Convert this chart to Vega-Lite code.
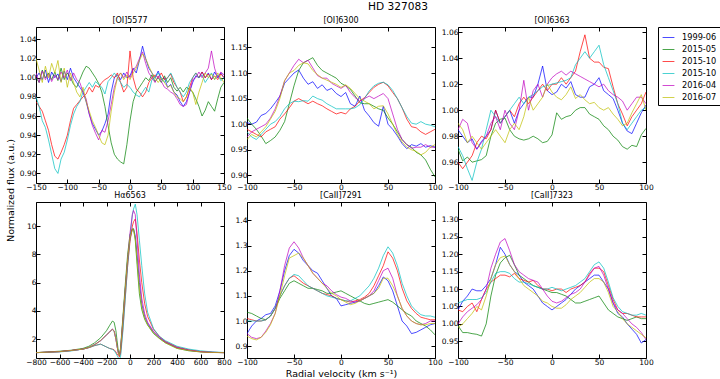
{
"$schema":"https://vega.github.io/schema/vega-lite/v6.json",
"padding":{"left":4,"top":2,"right":0,"bottom":0},
"title":{"text":"HD 327083","fontSize":10.6,"fontWeight":"normal","offset":3,"anchor":"middle","dx":35,"color":"black","baseline":"top"},
"datasets":{
"p1":[
{"v":-150,"s1":1.0,"s2":1.0,"s3":0.975,"s4":0.98,"s5":1.005,"s6":1.02},
{"v":-145,"s1":1.005,"s2":0.995,"s3":0.97,"s4":0.97,"s5":0.995,"s6":1.008},
{"v":-140,"s1":0.998,"s2":1.008,"s3":0.965,"s4":0.955,"s5":1.007,"s6":0.995},
{"v":-135,"s1":1.008,"s2":1.0,"s3":0.955,"s4":0.948,"s5":0.998,"s6":1.012},
{"v":-130,"s1":0.995,"s2":1.005,"s3":0.945,"s4":0.935,"s5":1.004,"s6":1.0},
{"v":-125,"s1":1.006,"s2":0.998,"s3":0.93,"s4":0.92,"s5":0.996,"s6":1.015},
{"v":-120,"s1":1.0,"s2":1.006,"s3":0.918,"s4":0.905,"s5":1.003,"s6":1.005},
{"v":-115,"s1":1.004,"s2":0.997,"s3":0.915,"s4":0.9,"s5":0.998,"s6":1.018},
{"v":-110,"s1":0.996,"s2":1.01,"s3":0.922,"s4":0.915,"s5":1.006,"s6":0.995},
{"v":-105,"s1":1.007,"s2":0.998,"s3":0.93,"s4":0.922,"s5":1.0,"s6":1.01},
{"v":-100,"s1":0.998,"s2":1.005,"s3":0.94,"s4":0.935,"s5":1.008,"s6":0.99},
{"v":-95,"s1":1.01,"s2":1.0,"s3":0.955,"s4":0.95,"s5":0.997,"s6":1.005},
{"v":-90,"s1":1.0,"s2":0.993,"s3":0.968,"s4":0.962,"s5":1.005,"s6":0.995},
{"v":-85,"s1":0.995,"s2":0.99,"s3":0.972,"s4":0.97,"s5":0.998,"s6":0.985},
{"v":-80,"s1":0.99,"s2":0.998,"s3":0.976,"s4":0.975,"s5":0.995,"s6":0.98},
{"v":-75,"s1":0.985,"s2":1.006,"s3":0.98,"s4":0.985,"s5":0.985,"s6":0.99},
{"v":-70,"s1":0.975,"s2":1.012,"s3":0.983,"s4":0.99,"s5":0.978,"s6":0.975},
{"v":-65,"s1":0.962,"s2":1.01,"s3":0.99,"s4":0.995,"s5":0.962,"s6":0.965},
{"v":-60,"s1":0.952,"s2":1.005,"s3":0.985,"s4":0.99,"s5":0.95,"s6":0.955},
{"v":-55,"s1":0.946,"s2":1.0,"s3":0.992,"s4":0.996,"s5":0.942,"s6":0.948},
{"v":-50,"s1":0.94,"s2":0.994,"s3":0.99,"s4":0.993,"s5":0.935,"s6":0.94},
{"v":-45,"s1":0.944,"s2":0.985,"s3":0.995,"s4":0.99,"s5":0.945,"s6":0.932},
{"v":-40,"s1":0.952,"s2":0.97,"s3":0.998,"s4":0.983,"s5":0.943,"s6":0.93},
{"v":-35,"s1":0.962,"s2":0.95,"s3":1.0,"s4":0.996,"s5":0.955,"s6":0.94},
{"v":-30,"s1":0.985,"s2":0.932,"s3":1.003,"s4":1.0,"s5":0.972,"s6":0.965},
{"v":-25,"s1":1.0,"s2":0.92,"s3":1.0,"s4":1.005,"s5":0.99,"s6":0.985},
{"v":-20,"s1":1.003,"s2":0.915,"s3":1.005,"s4":1.0,"s5":1.0,"s6":1.0},
{"v":-15,"s1":0.998,"s2":0.912,"s3":0.995,"s4":0.995,"s5":1.005,"s6":1.005},
{"v":-10,"s1":1.005,"s2":0.91,"s3":0.985,"s4":0.99,"s5":1.0,"s6":0.998},
{"v":-5,"s1":1.0,"s2":0.93,"s3":0.99,"s4":0.993,"s5":1.006,"s6":1.003},
{"v":0,"s1":1.002,"s2":0.955,"s3":1.028,"s4":0.99,"s5":1.0,"s6":0.998},
{"v":5,"s1":1.01,"s2":0.975,"s3":1.0,"s4":0.985,"s5":1.008,"s6":1.005},
{"v":10,"s1":1.005,"s2":0.985,"s3":0.988,"s4":0.982,"s5":1.012,"s6":1.01},
{"v":15,"s1":1.018,"s2":0.99,"s3":0.985,"s4":0.98,"s5":1.02,"s6":1.018},
{"v":20,"s1":1.033,"s2":0.995,"s3":0.98,"s4":0.985,"s5":1.027,"s6":1.025},
{"v":25,"s1":1.02,"s2":1.0,"s3":0.985,"s4":0.99,"s5":1.015,"s6":1.02},
{"v":30,"s1":1.01,"s2":0.997,"s3":0.995,"s4":0.985,"s5":1.005,"s6":1.012},
{"v":35,"s1":1.005,"s2":1.003,"s3":1.0,"s4":0.998,"s5":1.0,"s6":1.005},
{"v":40,"s1":1.0,"s2":0.996,"s3":1.003,"s4":1.0,"s5":0.995,"s6":1.0},
{"v":45,"s1":1.007,"s2":1.0,"s3":1.0,"s4":1.005,"s5":1.002,"s6":0.995},
{"v":50,"s1":0.998,"s2":0.995,"s3":1.005,"s4":1.0,"s5":0.996,"s6":1.0},
{"v":55,"s1":1.0,"s2":1.002,"s3":0.998,"s4":0.995,"s5":0.99,"s6":0.995},
{"v":60,"s1":0.99,"s2":0.995,"s3":1.0,"s4":1.0,"s5":0.988,"s6":0.99},
{"v":65,"s1":0.993,"s2":1.0,"s3":1.004,"s4":1.005,"s5":0.985,"s6":0.992},
{"v":70,"s1":0.985,"s2":0.99,"s3":0.995,"s4":0.998,"s5":0.983,"s6":0.985},
{"v":75,"s1":0.982,"s2":0.986,"s3":0.99,"s4":0.99,"s5":0.978,"s6":0.98},
{"v":80,"s1":0.975,"s2":0.99,"s3":0.985,"s4":0.985,"s5":0.972,"s6":0.978},
{"v":85,"s1":0.97,"s2":0.985,"s3":0.975,"s4":0.98,"s5":0.97,"s6":0.975},
{"v":90,"s1":0.975,"s2":0.99,"s3":0.98,"s4":0.985,"s5":0.972,"s6":0.98},
{"v":95,"s1":0.985,"s2":0.988,"s3":0.99,"s4":0.995,"s5":0.985,"s6":0.99},
{"v":100,"s1":0.995,"s2":0.985,"s3":1.0,"s4":1.0,"s5":0.998,"s6":0.985},
{"v":105,"s1":1.002,"s2":0.978,"s3":1.005,"s4":1.005,"s5":1.0,"s6":0.972},
{"v":110,"s1":1.0,"s2":0.97,"s3":1.0,"s4":1.0,"s5":1.006,"s6":0.985},
{"v":115,"s1":1.006,"s2":0.96,"s3":1.006,"s4":1.003,"s5":1.0,"s6":0.995},
{"v":120,"s1":1.0,"s2":0.966,"s3":1.0,"s4":0.995,"s5":1.005,"s6":1.005},
{"v":125,"s1":1.005,"s2":0.975,"s3":1.004,"s4":1.0,"s5":1.01,"s6":1.0},
{"v":130,"s1":0.998,"s2":0.97,"s3":0.998,"s4":1.005,"s5":1.028,"s6":1.004},
{"v":135,"s1":1.006,"s2":0.965,"s3":1.002,"s4":0.998,"s5":1.01,"s6":0.998},
{"v":140,"s1":1.0,"s2":0.978,"s3":0.998,"s4":1.003,"s5":1.0,"s6":1.005},
{"v":145,"s1":1.005,"s2":0.99,"s3":1.004,"s4":0.997,"s5":1.006,"s6":1.0},
{"v":150,"s1":1.0,"s2":0.995,"s3":1.0,"s4":1.0,"s5":1.003,"s6":0.995}
],
"p2":[
{"v":-100,"s1":1.003,"s2":1.012,"s3":0.99,"s4":0.985,"s5":0.975,"s6":0.97},
{"v":-95,"s1":1.0,"s2":1.0,"s3":0.985,"s4":0.975,"s5":0.985,"s6":0.98},
{"v":-90,"s1":1.004,"s2":0.99,"s3":0.98,"s4":0.97,"s5":0.99,"s6":0.975},
{"v":-85,"s1":1.017,"s2":0.977,"s3":0.975,"s4":0.98,"s5":0.995,"s6":0.985},
{"v":-80,"s1":1.021,"s2":0.962,"s3":0.985,"s4":0.99,"s5":1.0,"s6":0.995},
{"v":-75,"s1":1.03,"s2":0.968,"s3":0.99,"s4":1.0,"s5":1.012,"s6":1.01},
{"v":-70,"s1":1.042,"s2":0.975,"s3":0.995,"s4":1.005,"s5":1.03,"s6":1.025},
{"v":-65,"s1":1.055,"s2":0.988,"s3":1.01,"s4":1.015,"s5":1.055,"s6":1.05},
{"v":-60,"s1":1.08,"s2":1.005,"s3":1.02,"s4":1.03,"s5":1.085,"s6":1.085},
{"v":-55,"s1":1.09,"s2":1.04,"s3":1.032,"s4":1.04,"s5":1.1,"s6":1.1},
{"v":-50,"s1":1.1,"s2":1.075,"s3":1.045,"s4":1.045,"s5":1.115,"s6":1.105},
{"v":-45,"s1":1.106,"s2":1.105,"s3":1.05,"s4":1.044,"s5":1.127,"s6":1.115},
{"v":-40,"s1":1.09,"s2":1.12,"s3":1.045,"s4":1.046,"s5":1.12,"s6":1.12},
{"v":-35,"s1":1.078,"s2":1.125,"s3":1.04,"s4":1.045,"s5":1.125,"s6":1.118},
{"v":-30,"s1":1.083,"s2":1.13,"s3":1.045,"s4":1.055,"s5":1.11,"s6":1.105},
{"v":-25,"s1":1.07,"s2":1.115,"s3":1.04,"s4":1.05,"s5":1.095,"s6":1.097},
{"v":-20,"s1":1.077,"s2":1.105,"s3":1.036,"s4":1.047,"s5":1.09,"s6":1.09},
{"v":-15,"s1":1.066,"s2":1.1,"s3":1.03,"s4":1.04,"s5":1.09,"s6":1.086},
{"v":-10,"s1":1.07,"s2":1.095,"s3":1.025,"s4":1.035,"s5":1.08,"s6":1.082},
{"v":-5,"s1":1.06,"s2":1.09,"s3":1.02,"s4":1.03,"s5":1.075,"s6":1.078},
{"v":0,"s1":1.054,"s2":1.08,"s3":1.023,"s4":1.03,"s5":1.07,"s6":1.072},
{"v":5,"s1":1.062,"s2":1.075,"s3":1.02,"s4":1.03,"s5":1.076,"s6":1.077},
{"v":10,"s1":1.04,"s2":1.068,"s3":1.03,"s4":1.03,"s5":1.062,"s6":1.07},
{"v":15,"s1":1.035,"s2":1.055,"s3":1.035,"s4":1.032,"s5":1.052,"s6":1.06},
{"v":20,"s1":1.055,"s2":1.042,"s3":1.045,"s4":1.038,"s5":1.045,"s6":1.05},
{"v":25,"s1":1.027,"s2":1.04,"s3":1.052,"s4":1.05,"s5":1.05,"s6":1.045},
{"v":30,"s1":1.016,"s2":1.04,"s3":1.062,"s4":1.065,"s5":1.055,"s6":1.04},
{"v":35,"s1":1.003,"s2":1.035,"s3":1.072,"s4":1.075,"s5":1.05,"s6":1.03},
{"v":40,"s1":0.996,"s2":1.03,"s3":1.078,"s4":1.08,"s5":1.055,"s6":1.035},
{"v":45,"s1":1.035,"s2":1.027,"s3":1.082,"s4":1.082,"s5":1.06,"s6":1.036},
{"v":50,"s1":1.0,"s2":1.012,"s3":1.075,"s4":1.077,"s5":1.05,"s6":1.02},
{"v":55,"s1":0.99,"s2":1.0,"s3":1.062,"s4":1.066,"s5":1.02,"s6":1.0},
{"v":60,"s1":0.977,"s2":0.985,"s3":1.05,"s4":1.05,"s5":0.99,"s6":0.98},
{"v":65,"s1":0.962,"s2":0.97,"s3":1.032,"s4":1.032,"s5":0.97,"s6":0.965},
{"v":70,"s1":0.952,"s2":0.96,"s3":1.01,"s4":1.015,"s5":0.96,"s6":0.955},
{"v":75,"s1":0.96,"s2":0.955,"s3":0.995,"s4":1.002,"s5":0.953,"s6":0.95},
{"v":80,"s1":0.957,"s2":0.945,"s3":0.993,"s4":1.0,"s5":0.955,"s6":0.947},
{"v":85,"s1":0.962,"s2":0.94,"s3":0.985,"s4":1.005,"s5":0.955,"s6":0.94},
{"v":90,"s1":0.955,"s2":0.93,"s3":0.98,"s4":1.0,"s5":0.96,"s6":0.945},
{"v":95,"s1":0.958,"s2":0.912,"s3":0.985,"s4":0.998,"s5":0.955,"s6":0.955},
{"v":100,"s1":0.955,"s2":0.897,"s3":0.99,"s4":0.995,"s5":0.955,"s6":0.96}
],
"p3":[
{"v":-100,"s1":0.985,"s2":0.97,"s3":0.96,"s4":0.972,"s5":0.985,"s6":0.99},
{"v":-95,"s1":0.98,"s2":0.961,"s3":0.955,"s4":0.965,"s5":0.993,"s6":0.985},
{"v":-90,"s1":0.975,"s2":0.964,"s3":0.96,"s4":0.955,"s5":0.99,"s6":0.975},
{"v":-85,"s1":0.978,"s2":0.96,"s3":0.965,"s4":0.946,"s5":0.975,"s6":0.98},
{"v":-80,"s1":0.97,"s2":0.961,"s3":0.975,"s4":0.96,"s5":0.97,"s6":0.975},
{"v":-75,"s1":0.976,"s2":0.962,"s3":0.98,"s4":0.97,"s5":0.975,"s6":0.97},
{"v":-70,"s1":0.98,"s2":0.965,"s3":0.978,"s4":0.985,"s5":0.98,"s6":0.975},
{"v":-65,"s1":0.985,"s2":0.98,"s3":0.985,"s4":1.0,"s5":0.99,"s6":0.98},
{"v":-60,"s1":1.0,"s2":0.99,"s3":1.0,"s4":0.995,"s5":0.995,"s6":0.985},
{"v":-55,"s1":0.99,"s2":0.993,"s3":0.99,"s4":0.99,"s5":0.985,"s6":0.98},
{"v":-50,"s1":0.995,"s2":0.994,"s3":0.995,"s4":0.995,"s5":1.0,"s6":0.975},
{"v":-45,"s1":1.0,"s2":0.985,"s3":1.0,"s4":1.0,"s5":0.99,"s6":0.985},
{"v":-40,"s1":0.99,"s2":0.98,"s3":0.995,"s4":1.005,"s5":0.985,"s6":0.99},
{"v":-35,"s1":1.0,"s2":0.978,"s3":1.005,"s4":1.01,"s5":1.0,"s6":0.985},
{"v":-30,"s1":1.005,"s2":0.977,"s3":1.01,"s4":1.005,"s5":1.023,"s6":0.995},
{"v":-25,"s1":1.01,"s2":0.978,"s3":1.005,"s4":1.01,"s5":1.0,"s6":1.01},
{"v":-20,"s1":1.01,"s2":0.98,"s3":1.01,"s4":1.012,"s5":1.015,"s6":1.0},
{"v":-15,"s1":1.02,"s2":0.978,"s3":1.015,"s4":1.015,"s5":1.02,"s6":1.005},
{"v":-10,"s1":1.034,"s2":0.975,"s3":1.02,"s4":1.018,"s5":1.01,"s6":1.01},
{"v":-5,"s1":1.015,"s2":0.976,"s3":1.015,"s4":1.019,"s5":1.02,"s6":1.02},
{"v":0,"s1":1.012,"s2":0.981,"s3":1.02,"s4":1.02,"s5":1.025,"s6":1.014},
{"v":5,"s1":1.014,"s2":0.998,"s3":1.02,"s4":1.021,"s5":1.028,"s6":1.01},
{"v":10,"s1":1.02,"s2":0.993,"s3":1.025,"s4":1.022,"s5":1.03,"s6":1.008},
{"v":15,"s1":1.017,"s2":0.995,"s3":1.02,"s4":1.023,"s5":1.027,"s6":1.012},
{"v":20,"s1":1.022,"s2":0.996,"s3":1.025,"s4":1.025,"s5":1.03,"s6":1.018},
{"v":25,"s1":1.012,"s2":1.0,"s3":1.03,"s4":1.035,"s5":1.028,"s6":1.009},
{"v":30,"s1":1.01,"s2":1.002,"s3":1.045,"s4":1.04,"s5":1.026,"s6":1.012},
{"v":35,"s1":1.01,"s2":1.002,"s3":1.058,"s4":1.045,"s5":1.024,"s6":1.008},
{"v":40,"s1":1.018,"s2":0.997,"s3":1.04,"s4":1.04,"s5":1.022,"s6":1.005},
{"v":45,"s1":1.02,"s2":0.995,"s3":1.037,"s4":1.045,"s5":1.02,"s6":1.006},
{"v":50,"s1":1.025,"s2":0.993,"s3":1.037,"s4":1.05,"s5":1.018,"s6":1.002},
{"v":55,"s1":1.015,"s2":0.988,"s3":1.033,"s4":1.035,"s5":1.02,"s6":1.0},
{"v":60,"s1":1.012,"s2":0.985,"s3":1.032,"s4":1.025,"s5":1.015,"s6":1.002},
{"v":65,"s1":1.009,"s2":0.98,"s3":1.018,"s4":1.015,"s5":1.012,"s6":0.997},
{"v":70,"s1":1.0,"s2":0.977,"s3":1.005,"s4":1.005,"s5":1.01,"s6":0.993},
{"v":75,"s1":0.99,"s2":0.972,"s3":0.997,"s4":0.99,"s5":1.007,"s6":0.988},
{"v":80,"s1":0.984,"s2":0.97,"s3":0.988,"s4":0.985,"s5":1.0,"s6":0.99},
{"v":85,"s1":0.982,"s2":0.973,"s3":0.995,"s4":0.99,"s5":1.005,"s6":0.998},
{"v":90,"s1":0.99,"s2":0.972,"s3":1.0,"s4":0.995,"s5":1.01,"s6":1.005},
{"v":95,"s1":0.998,"s2":0.981,"s3":1.005,"s4":1.0,"s5":1.01,"s6":1.012},
{"v":100,"s1":1.004,"s2":0.986,"s3":1.014,"s4":1.002,"s5":1.005,"s6":1.0}
],
"p4":[
{"v":-800,"s1":1.05,"s2":1.05,"s3":1.05,"s4":1.05,"s5":1.05,"s6":1.05},
{"v":-700,"s1":1.08,"s2":1.1,"s3":1.08,"s4":1.07,"s5":1.08,"s6":1.08},
{"v":-600,"s1":1.12,"s2":1.15,"s3":1.12,"s4":1.1,"s5":1.12,"s6":1.12},
{"v":-500,"s1":1.2,"s2":1.22,"s3":1.2,"s4":1.17,"s5":1.2,"s6":1.2},
{"v":-400,"s1":1.3,"s2":1.35,"s3":1.3,"s4":1.3,"s5":1.3,"s6":1.3},
{"v":-350,"s1":1.42,"s2":1.5,"s3":1.4,"s4":1.4,"s5":1.42,"s6":1.42},
{"v":-300,"s1":1.62,"s2":1.75,"s3":1.55,"s4":1.55,"s5":1.62,"s6":1.62},
{"v":-250,"s1":1.9,"s2":2.1,"s3":1.65,"s4":1.65,"s5":1.9,"s6":1.9},
{"v":-200,"s1":2.3,"s2":2.6,"s3":1.45,"s4":1.45,"s5":2.3,"s6":2.3},
{"v":-175,"s1":2.5,"s2":2.95,"s3":1.35,"s4":1.35,"s5":2.5,"s6":2.5},
{"v":-150,"s1":2.7,"s2":3.28,"s3":1.3,"s4":1.28,"s5":2.72,"s6":2.7},
{"v":-135,"s1":2.55,"s2":3.2,"s3":1.25,"s4":1.2,"s5":2.6,"s6":2.55},
{"v":-120,"s1":2.0,"s2":2.6,"s3":1.1,"s4":1.0,"s5":2.05,"s6":2.0},
{"v":-110,"s1":1.5,"s2":1.9,"s3":0.95,"s4":0.85,"s5":1.5,"s6":1.5},
{"v":-100,"s1":1.05,"s2":1.2,"s3":0.85,"s4":0.7,"s5":1.05,"s6":1.05},
{"v":-90,"s1":0.85,"s2":0.85,"s3":0.75,"s4":0.55,"s5":0.85,"s6":0.85},
{"v":-80,"s1":1.3,"s2":1.4,"s3":1.0,"s4":0.8,"s5":1.25,"s6":1.3},
{"v":-60,"s1":3.4,"s2":3.6,"s3":2.8,"s4":2.6,"s5":3.3,"s6":3.4},
{"v":-40,"s1":5.6,"s2":5.9,"s3":5.0,"s4":4.9,"s5":5.5,"s6":5.6},
{"v":-20,"s1":7.6,"s2":8.0,"s3":7.2,"s4":7.2,"s5":7.6,"s6":7.7},
{"v":0,"s1":9.1,"s2":9.4,"s3":8.9,"s4":9.2,"s5":9.5,"s6":9.2},
{"v":20,"s1":9.75,"s2":9.8,"s3":10.0,"s4":10.8,"s5":10.8,"s6":9.75},
{"v":30,"s1":9.8,"s2":9.8,"s3":10.3,"s4":11.2,"s5":11.1,"s6":9.75},
{"v":45,"s1":9.3,"s2":9.0,"s3":10.5,"s4":11.55,"s5":10.8,"s6":9.1},
{"v":60,"s1":8.0,"s2":7.3,"s3":9.5,"s4":10.8,"s5":9.0,"s6":7.6},
{"v":80,"s1":6.0,"s2":5.2,"s3":7.6,"s4":9.0,"s5":6.6,"s6":5.6},
{"v":100,"s1":4.5,"s2":4.1,"s3":6.0,"s4":7.2,"s5":4.9,"s6":4.3},
{"v":125,"s1":3.6,"s2":3.4,"s3":4.5,"s4":5.2,"s5":3.8,"s6":3.5},
{"v":150,"s1":3.1,"s2":3.0,"s3":3.6,"s4":3.9,"s5":3.2,"s6":3.0},
{"v":200,"s1":2.5,"s2":2.4,"s3":2.7,"s4":2.75,"s5":2.55,"s6":2.45},
{"v":250,"s1":2.1,"s2":2.05,"s3":2.2,"s4":2.2,"s5":2.15,"s6":2.05},
{"v":300,"s1":1.8,"s2":1.75,"s3":1.85,"s4":1.9,"s5":1.8,"s6":1.75},
{"v":400,"s1":1.4,"s2":1.35,"s3":1.45,"s4":1.5,"s5":1.4,"s6":1.35},
{"v":500,"s1":1.22,"s2":1.18,"s3":1.25,"s4":1.3,"s5":1.22,"s6":1.2},
{"v":600,"s1":1.12,"s2":1.1,"s3":1.12,"s4":1.18,"s5":1.12,"s6":1.1},
{"v":700,"s1":1.07,"s2":1.06,"s3":1.07,"s4":1.1,"s5":1.07,"s6":1.06},
{"v":800,"s1":1.05,"s2":1.05,"s3":1.05,"s4":1.06,"s5":1.05,"s6":1.05}
],
"p5":[
{"v":-100,"s1":0.95,"s2":1.035,"s3":1.01,"s4":1.0,"s5":0.95,"s6":0.94},
{"v":-95,"s1":0.98,"s2":1.03,"s3":1.005,"s4":1.0,"s5":0.935,"s6":0.93},
{"v":-90,"s1":1.0,"s2":1.02,"s3":1.0,"s4":1.0,"s5":0.93,"s6":0.925},
{"v":-85,"s1":1.01,"s2":1.01,"s3":1.0,"s4":1.0,"s5":0.935,"s6":0.935},
{"v":-80,"s1":1.025,"s2":1.005,"s3":1.005,"s4":1.005,"s5":0.96,"s6":0.955},
{"v":-75,"s1":1.03,"s2":1.02,"s3":1.02,"s4":1.02,"s5":0.99,"s6":0.985},
{"v":-70,"s1":1.06,"s2":1.05,"s3":1.05,"s4":1.05,"s5":1.03,"s6":1.03},
{"v":-65,"s1":1.12,"s2":1.09,"s3":1.1,"s4":1.1,"s5":1.12,"s6":1.1},
{"v":-60,"s1":1.2,"s2":1.12,"s3":1.14,"s4":1.14,"s5":1.22,"s6":1.18},
{"v":-55,"s1":1.26,"s2":1.15,"s3":1.17,"s4":1.17,"s5":1.29,"s6":1.25},
{"v":-50,"s1":1.285,"s2":1.16,"s3":1.18,"s4":1.185,"s5":1.315,"s6":1.26},
{"v":-45,"s1":1.27,"s2":1.15,"s3":1.165,"s4":1.18,"s5":1.29,"s6":1.27},
{"v":-40,"s1":1.24,"s2":1.14,"s3":1.15,"s4":1.16,"s5":1.25,"s6":1.25},
{"v":-35,"s1":1.22,"s2":1.13,"s3":1.14,"s4":1.14,"s5":1.22,"s6":1.22},
{"v":-30,"s1":1.2,"s2":1.13,"s3":1.13,"s4":1.13,"s5":1.19,"s6":1.19},
{"v":-25,"s1":1.19,"s2":1.125,"s3":1.12,"s4":1.12,"s5":1.17,"s6":1.17},
{"v":-20,"s1":1.16,"s2":1.12,"s3":1.11,"s4":1.11,"s5":1.15,"s6":1.15},
{"v":-15,"s1":1.13,"s2":1.11,"s3":1.105,"s4":1.1,"s5":1.14,"s6":1.13},
{"v":-10,"s1":1.1,"s2":1.11,"s3":1.1,"s4":1.095,"s5":1.12,"s6":1.11},
{"v":-5,"s1":1.09,"s2":1.115,"s3":1.09,"s4":1.09,"s5":1.105,"s6":1.1},
{"v":0,"s1":1.06,"s2":1.12,"s3":1.085,"s4":1.085,"s5":1.095,"s6":1.085},
{"v":5,"s1":1.065,"s2":1.11,"s3":1.08,"s4":1.08,"s5":1.09,"s6":1.075},
{"v":10,"s1":1.07,"s2":1.1,"s3":1.075,"s4":1.08,"s5":1.08,"s6":1.065},
{"v":15,"s1":1.075,"s2":1.09,"s3":1.08,"s4":1.09,"s5":1.075,"s6":1.07},
{"v":20,"s1":1.08,"s2":1.08,"s3":1.085,"s4":1.1,"s5":1.08,"s6":1.08},
{"v":25,"s1":1.09,"s2":1.07,"s3":1.095,"s4":1.12,"s5":1.09,"s6":1.09},
{"v":30,"s1":1.1,"s2":1.065,"s3":1.11,"s4":1.14,"s5":1.1,"s6":1.1},
{"v":35,"s1":1.11,"s2":1.07,"s3":1.14,"s4":1.17,"s5":1.12,"s6":1.11},
{"v":40,"s1":1.14,"s2":1.075,"s3":1.18,"s4":1.21,"s5":1.16,"s6":1.13},
{"v":45,"s1":1.175,"s2":1.08,"s3":1.22,"s4":1.26,"s5":1.2,"s6":1.17},
{"v":50,"s1":1.16,"s2":1.085,"s3":1.275,"s4":1.295,"s5":1.21,"s6":1.17},
{"v":55,"s1":1.12,"s2":1.075,"s3":1.25,"s4":1.27,"s5":1.17,"s6":1.14},
{"v":60,"s1":1.06,"s2":1.06,"s3":1.2,"s4":1.22,"s5":1.1,"s6":1.1},
{"v":65,"s1":1.0,"s2":1.045,"s3":1.13,"s4":1.15,"s5":1.05,"s6":1.05},
{"v":70,"s1":0.98,"s2":1.03,"s3":1.08,"s4":1.1,"s5":1.02,"s6":1.02},
{"v":75,"s1":0.95,"s2":1.02,"s3":1.05,"s4":1.06,"s5":1.0,"s6":1.0},
{"v":80,"s1":0.955,"s2":1.0,"s3":1.03,"s4":1.04,"s5":0.99,"s6":0.99},
{"v":85,"s1":0.965,"s2":0.99,"s3":1.015,"s4":1.025,"s5":0.985,"s6":0.985},
{"v":90,"s1":0.975,"s2":0.98,"s3":1.01,"s4":1.02,"s5":0.99,"s6":0.985},
{"v":95,"s1":0.985,"s2":0.965,"s3":1.005,"s4":1.02,"s5":1.0,"s6":0.99},
{"v":100,"s1":0.99,"s2":0.945,"s3":1.005,"s4":1.015,"s5":1.0,"s6":0.99}
],
"p6":[
{"v":-100,"s1":1.04,"s2":0.995,"s3":1.04,"s4":1.06,"s5":1.0,"s6":0.99},
{"v":-95,"s1":1.065,"s2":0.975,"s3":1.035,"s4":1.065,"s5":1.02,"s6":1.0},
{"v":-90,"s1":1.08,"s2":0.975,"s3":1.05,"s4":1.07,"s5":1.035,"s6":1.015},
{"v":-85,"s1":1.1,"s2":0.972,"s3":1.06,"s4":1.07,"s5":1.045,"s6":1.03},
{"v":-80,"s1":1.095,"s2":0.97,"s3":1.035,"s4":1.07,"s5":1.055,"s6":1.05},
{"v":-75,"s1":1.095,"s2":0.965,"s3":1.07,"s4":1.075,"s5":1.07,"s6":1.04},
{"v":-70,"s1":1.11,"s2":1.0,"s3":1.1,"s4":1.09,"s5":1.1,"s6":1.08},
{"v":-65,"s1":1.13,"s2":1.08,"s3":1.12,"s4":1.12,"s5":1.16,"s6":1.13},
{"v":-60,"s1":1.17,"s2":1.14,"s3":1.13,"s4":1.145,"s5":1.2,"s6":1.17},
{"v":-55,"s1":1.22,"s2":1.175,"s3":1.14,"s4":1.15,"s5":1.235,"s6":1.19},
{"v":-50,"s1":1.2,"s2":1.19,"s3":1.14,"s4":1.15,"s5":1.245,"s6":1.195},
{"v":-45,"s1":1.17,"s2":1.197,"s3":1.135,"s4":1.145,"s5":1.21,"s6":1.17},
{"v":-40,"s1":1.15,"s2":1.17,"s3":1.145,"s4":1.13,"s5":1.17,"s6":1.15},
{"v":-35,"s1":1.14,"s2":1.14,"s3":1.13,"s4":1.12,"s5":1.15,"s6":1.13},
{"v":-30,"s1":1.12,"s2":1.13,"s3":1.125,"s4":1.12,"s5":1.14,"s6":1.11},
{"v":-25,"s1":1.11,"s2":1.12,"s3":1.12,"s4":1.115,"s5":1.13,"s6":1.1},
{"v":-20,"s1":1.1,"s2":1.11,"s3":1.125,"s4":1.11,"s5":1.125,"s6":1.09},
{"v":-15,"s1":1.08,"s2":1.105,"s3":1.11,"s4":1.105,"s5":1.12,"s6":1.08},
{"v":-10,"s1":1.06,"s2":1.1,"s3":1.1,"s4":1.1,"s5":1.1,"s6":1.065},
{"v":-5,"s1":1.05,"s2":1.095,"s3":1.1,"s4":1.1,"s5":1.08,"s6":1.06},
{"v":0,"s1":1.04,"s2":1.09,"s3":1.095,"s4":1.105,"s5":1.065,"s6":1.05},
{"v":5,"s1":1.05,"s2":1.09,"s3":1.1,"s4":1.1,"s5":1.06,"s6":1.045},
{"v":10,"s1":1.06,"s2":1.085,"s3":1.1,"s4":1.095,"s5":1.065,"s6":1.045},
{"v":15,"s1":1.07,"s2":1.08,"s3":1.09,"s4":1.1,"s5":1.075,"s6":1.055},
{"v":20,"s1":1.085,"s2":1.07,"s3":1.1,"s4":1.105,"s5":1.085,"s6":1.07},
{"v":25,"s1":1.1,"s2":1.06,"s3":1.105,"s4":1.11,"s5":1.09,"s6":1.08},
{"v":30,"s1":1.11,"s2":1.06,"s3":1.11,"s4":1.12,"s5":1.1,"s6":1.09},
{"v":35,"s1":1.12,"s2":1.065,"s3":1.12,"s4":1.13,"s5":1.12,"s6":1.105},
{"v":40,"s1":1.13,"s2":1.07,"s3":1.145,"s4":1.15,"s5":1.14,"s6":1.12},
{"v":45,"s1":1.14,"s2":1.075,"s3":1.16,"s4":1.17,"s5":1.16,"s6":1.13},
{"v":50,"s1":1.14,"s2":1.08,"s3":1.16,"s4":1.178,"s5":1.165,"s6":1.13},
{"v":55,"s1":1.12,"s2":1.06,"s3":1.15,"s4":1.16,"s5":1.14,"s6":1.12},
{"v":60,"s1":1.1,"s2":1.04,"s3":1.11,"s4":1.12,"s5":1.1,"s6":1.09},
{"v":65,"s1":1.06,"s2":1.03,"s3":1.07,"s4":1.075,"s5":1.06,"s6":1.05},
{"v":70,"s1":1.03,"s2":1.02,"s3":1.04,"s4":1.05,"s5":1.04,"s6":1.035},
{"v":75,"s1":1.02,"s2":1.015,"s3":1.03,"s4":1.035,"s5":1.03,"s6":1.015},
{"v":80,"s1":1.0,"s2":1.01,"s3":1.03,"s4":1.03,"s5":1.015,"s6":1.0},
{"v":85,"s1":0.985,"s2":1.015,"s3":1.025,"s4":1.025,"s5":1.0,"s6":0.99},
{"v":90,"s1":0.97,"s2":1.02,"s3":1.02,"s4":1.025,"s5":0.99,"s6":0.98},
{"v":95,"s1":0.945,"s2":1.015,"s3":1.02,"s4":1.03,"s5":0.975,"s6":0.97},
{"v":100,"s1":0.955,"s2":1.015,"s3":1.02,"s4":1.025,"s5":0.955,"s6":0.96}
]
},
"columns":3,
"spacing":{"row":19,"column":23},
"bounds":"flush",
"concat":[
{"width":188,"height":156,"title":"[OI]5577","data":{"name":"p1"},
 "transform":[{"fold":["s1","s2","s3","s4","s5","s6"],"as":["s","f"]}],
 "layer":[
  {"mark":{"type":"line","strokeWidth":1,"opacity":0.7,"clip":true},
   "encoding":{
    "x":{"field":"v","type":"quantitative","scale":{"domain":[-150,150],"nice":false,"zero":false},"axis":{"values":[-150,-100,-50,0,50,100,150],"title":null}},
    "y":{"field":"f","type":"quantitative","scale":{"domain":[0.89,1.053],"nice":false,"zero":false},"axis":{"values":[0.9,0.92,0.94,0.96,0.98,1.0,1.02,1.04],"format":".2f","title":"Normalized flux (a.u.)","titleX":-21,"titleY":163}},
    "color":{"field":"s","type":"nominal","scale":{"domain":["s1","s2","s3","s4","s5","s6"],"range":["#0000ff","#008000","#ff0000","#00bfbf","#bf00bf","#bfbf00"]},"legend":{"labelExpr":"['1999-06','2015-05','2015-10','2015-10','2016-04','2016-07'][indexof(['s1','s2','s3','s4','s5','s6'],datum.value)]"}}}},
  {"mark":{"type":"line","opacity":0},
   "encoding":{
    "x":{"field":"v","type":"quantitative","scale":{"domain":[-150,150],"nice":false,"zero":false},"axis":{"orient":"top","values":[-150,-100,-50,0,50,100,150],"labels":false,"title":null}},
    "y":{"field":"f","type":"quantitative","scale":{"domain":[0.89,1.053],"nice":false,"zero":false},"axis":{"orient":"right","values":[0.9,0.92,0.94,0.96,0.98,1.0,1.02,1.04],"labels":false,"title":null}},
    "detail":{"field":"s"}}}
 ],
 "resolve":{"axis":{"x":"independent","y":"independent"}}},
{"width":188,"height":156,"title":"[OI]6300","data":{"name":"p2"},
 "transform":[{"fold":["s1","s2","s3","s4","s5","s6"],"as":["s","f"]}],
 "layer":[
  {"mark":{"type":"line","strokeWidth":1,"opacity":0.7,"clip":true},
   "encoding":{
    "x":{"field":"v","type":"quantitative","scale":{"domain":[-100,100],"nice":false,"zero":false},"axis":{"values":[-100,-50,0,50,100],"title":null}},
    "y":{"field":"f","type":"quantitative","scale":{"domain":[0.885,1.19],"nice":false,"zero":false},"axis":{"values":[0.9,0.95,1.0,1.05,1.1,1.15],"format":".2f","title":null}},
    "color":{"field":"s","type":"nominal","scale":{"domain":["s1","s2","s3","s4","s5","s6"],"range":["#0000ff","#008000","#ff0000","#00bfbf","#bf00bf","#bfbf00"]},"legend":{"labelExpr":"['1999-06','2015-05','2015-10','2015-10','2016-04','2016-07'][indexof(['s1','s2','s3','s4','s5','s6'],datum.value)]"}}}},
  {"mark":{"type":"line","opacity":0},
   "encoding":{
    "x":{"field":"v","type":"quantitative","scale":{"domain":[-100,100],"nice":false,"zero":false},"axis":{"orient":"top","values":[-100,-50,0,50,100],"labels":false,"title":null}},
    "y":{"field":"f","type":"quantitative","scale":{"domain":[0.885,1.19],"nice":false,"zero":false},"axis":{"orient":"right","values":[0.9,0.95,1.0,1.05,1.1,1.15],"labels":false,"title":null}},
    "detail":{"field":"s"}}}
 ],
 "resolve":{"axis":{"x":"independent","y":"independent"}}},
{"width":188,"height":156,"title":"[OI]6363","data":{"name":"p3"},
 "transform":[{"fold":["s1","s2","s3","s4","s5","s6"],"as":["s","f"]}],
 "layer":[
  {"mark":{"type":"line","strokeWidth":1,"opacity":0.7,"clip":true},
   "encoding":{
    "x":{"field":"v","type":"quantitative","scale":{"domain":[-100,100],"nice":false,"zero":false},"axis":{"values":[-100,-50,0,50,100],"title":null}},
    "y":{"field":"f","type":"quantitative","scale":{"domain":[0.944,1.064],"nice":false,"zero":false},"axis":{"values":[0.96,0.98,1.0,1.02,1.04,1.06],"format":".2f","title":null}},
    "color":{"field":"s","type":"nominal","scale":{"domain":["s1","s2","s3","s4","s5","s6"],"range":["#0000ff","#008000","#ff0000","#00bfbf","#bf00bf","#bfbf00"]},"legend":{"labelExpr":"['1999-06','2015-05','2015-10','2015-10','2016-04','2016-07'][indexof(['s1','s2','s3','s4','s5','s6'],datum.value)]"}}}},
  {"mark":{"type":"line","opacity":0},
   "encoding":{
    "x":{"field":"v","type":"quantitative","scale":{"domain":[-100,100],"nice":false,"zero":false},"axis":{"orient":"top","values":[-100,-50,0,50,100],"labels":false,"title":null}},
    "y":{"field":"f","type":"quantitative","scale":{"domain":[0.944,1.064],"nice":false,"zero":false},"axis":{"orient":"right","values":[0.96,0.98,1.0,1.02,1.04,1.06],"labels":false,"title":null}},
    "detail":{"field":"s"}}}
 ],
 "resolve":{"axis":{"x":"independent","y":"independent"}}},
{"width":188,"height":156,"title":"Hα6563","data":{"name":"p4"},
 "transform":[{"fold":["s1","s2","s3","s4","s5","s6"],"as":["s","f"]}],
 "layer":[
  {"mark":{"type":"line","strokeWidth":1,"opacity":0.7,"clip":true},
   "encoding":{
    "x":{"field":"v","type":"quantitative","scale":{"domain":[-800,800],"nice":false,"zero":false},"axis":{"values":[-800,-600,-400,-200,0,200,400,600,800],"title":null}},
    "y":{"field":"f","type":"quantitative","scale":{"domain":[0.67,11.7],"nice":false,"zero":false},"axis":{"values":[2,4,6,8,10],"format":"d","title":null}},
    "color":{"field":"s","type":"nominal","scale":{"domain":["s1","s2","s3","s4","s5","s6"],"range":["#0000ff","#008000","#ff0000","#00bfbf","#bf00bf","#bfbf00"]},"legend":{"labelExpr":"['1999-06','2015-05','2015-10','2015-10','2016-04','2016-07'][indexof(['s1','s2','s3','s4','s5','s6'],datum.value)]"}}}},
  {"mark":{"type":"line","opacity":0},
   "encoding":{
    "x":{"field":"v","type":"quantitative","scale":{"domain":[-800,800],"nice":false,"zero":false},"axis":{"orient":"top","values":[-800,-600,-400,-200,0,200,400,600,800],"labels":false,"title":null}},
    "y":{"field":"f","type":"quantitative","scale":{"domain":[0.67,11.7],"nice":false,"zero":false},"axis":{"orient":"right","values":[2,4,6,8,10],"labels":false,"title":null}},
    "detail":{"field":"s"}}}
 ],
 "resolve":{"axis":{"x":"independent","y":"independent"}}},
{"width":188,"height":156,"title":"[CaII]7291","data":{"name":"p5"},
 "transform":[{"fold":["s1","s2","s3","s4","s5","s6"],"as":["s","f"]}],
 "layer":[
  {"mark":{"type":"line","strokeWidth":1,"opacity":0.7,"clip":true},
   "encoding":{
    "x":{"field":"v","type":"quantitative","scale":{"domain":[-100,100],"nice":false,"zero":false},"axis":{"values":[-100,-50,0,50,100],"title":"Radial velocity (km s⁻¹)","titleY":10}},
    "y":{"field":"f","type":"quantitative","scale":{"domain":[0.853,1.473],"nice":false,"zero":false},"axis":{"values":[0.9,1.0,1.1,1.2,1.3,1.4],"format":".1f","title":null}},
    "color":{"field":"s","type":"nominal","scale":{"domain":["s1","s2","s3","s4","s5","s6"],"range":["#0000ff","#008000","#ff0000","#00bfbf","#bf00bf","#bfbf00"]},"legend":{"labelExpr":"['1999-06','2015-05','2015-10','2015-10','2016-04','2016-07'][indexof(['s1','s2','s3','s4','s5','s6'],datum.value)]"}}}},
  {"mark":{"type":"line","opacity":0},
   "encoding":{
    "x":{"field":"v","type":"quantitative","scale":{"domain":[-100,100],"nice":false,"zero":false},"axis":{"orient":"top","values":[-100,-50,0,50,100],"labels":false,"title":null}},
    "y":{"field":"f","type":"quantitative","scale":{"domain":[0.853,1.473],"nice":false,"zero":false},"axis":{"orient":"right","values":[0.9,1.0,1.1,1.2,1.3,1.4],"labels":false,"title":null}},
    "detail":{"field":"s"}}}
 ],
 "resolve":{"axis":{"x":"independent","y":"independent"}}},
{"width":188,"height":156,"title":"[CaII]7323","data":{"name":"p6"},
 "transform":[{"fold":["s1","s2","s3","s4","s5","s6"],"as":["s","f"]}],
 "layer":[
  {"mark":{"type":"line","strokeWidth":1,"opacity":0.7,"clip":true},
   "encoding":{
    "x":{"field":"v","type":"quantitative","scale":{"domain":[-100,100],"nice":false,"zero":false},"axis":{"values":[-100,-50,0,50,100],"title":null}},
    "y":{"field":"f","type":"quantitative","scale":{"domain":[0.902,1.35],"nice":false,"zero":false},"axis":{"values":[0.95,1.0,1.05,1.1,1.15,1.2,1.25,1.3],"format":".2f","title":null}},
    "color":{"field":"s","type":"nominal","scale":{"domain":["s1","s2","s3","s4","s5","s6"],"range":["#0000ff","#008000","#ff0000","#00bfbf","#bf00bf","#bfbf00"]},"legend":{"labelExpr":"['1999-06','2015-05','2015-10','2015-10','2016-04','2016-07'][indexof(['s1','s2','s3','s4','s5','s6'],datum.value)]"}}}},
  {"mark":{"type":"line","opacity":0},
   "encoding":{
    "x":{"field":"v","type":"quantitative","scale":{"domain":[-100,100],"nice":false,"zero":false},"axis":{"orient":"top","values":[-100,-50,0,50,100],"labels":false,"title":null}},
    "y":{"field":"f","type":"quantitative","scale":{"domain":[0.902,1.35],"nice":false,"zero":false},"axis":{"orient":"right","values":[0.95,1.0,1.05,1.1,1.15,1.2,1.25,1.3],"labels":false,"title":null}},
    "detail":{"field":"s"}}}
 ],
 "resolve":{"axis":{"x":"independent","y":"independent"}}}
],
"config":{
 "font":"DejaVu Sans",
 "background":"white",
 "view":{"stroke":"black","strokeWidth":1},
 "axis":{"grid":false,"domain":false,"tickSize":-4,"tickColor":"black","tickWidth":1,"labelFontSize":7.5,"labelColor":"black","labelPadding":4,"labelFlush":false,"labelOverlap":false,"titleFontSize":9.5,"titleFontWeight":"normal","titleColor":"black","titlePadding":2},
 "title":{"fontSize":8,"fontWeight":"normal","offset":2,"baseline":"alphabetic","color":"black"},
 "legend":{"title":null,"symbolType":"stroke","symbolStrokeWidth":1,"symbolOpacity":0.7,"symbolSize":140,"labelFontSize":8.2,"labelColor":"black","strokeColor":"black","fillColor":"white","padding":4,"rowPadding":2,"labelOffset":7,"offset":4,"cornerRadius":0}
}
}
